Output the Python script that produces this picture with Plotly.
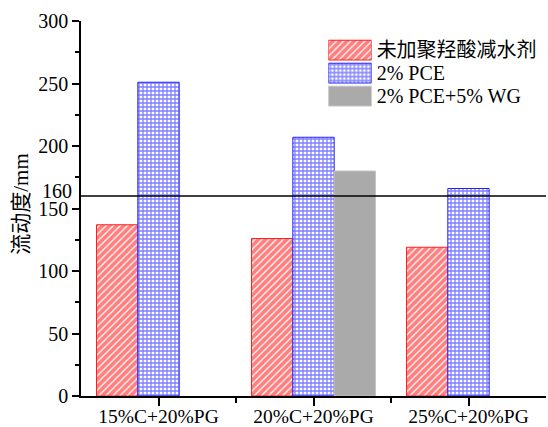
import plotly.graph_objects as go

# Mix designs (x categories) and flowability values in mm
categories = ["15%C+20%PG", "20%C+20%PG", "25%C+20%PG"]
series_names = ["未加聚羟酸减水剂", "2% PCE", "2% PCE+5% WG"]
no_admixture = [137, 126, 119]
pce_2 = [251, 207, 166]
pce_wg = [None, 180, None]
target_flow = 160
y_ticks = [0, 50, 100, 150, 200, 250, 300]

SERIF = "Liberation Serif, Times New Roman, serif"
CJK = "Liberation Serif, Noto Sans CJK SC, serif"

styles = [
    dict(color="white", line=dict(color="#ff2020", width=1),
         pattern=dict(shape="/", fgcolor="#ff0000", bgcolor="white", size=5, solidity=0.75)),
    dict(color="white", line=dict(color="#2020ff", width=1),
         pattern=dict(shape="+", fgcolor="#0000ff", bgcolor="white", size=4, solidity=0.55)),
    dict(color="#aaaaaa", line=dict(color="#c4c4c4", width=1)),
]

x_pos = list(range(len(categories)))
fig = go.Figure()
for name, vals, st in zip(series_names, [no_admixture, pce_2, pce_wg], styles):
    fig.add_trace(go.Bar(x=x_pos, y=vals, name=name, marker=st, showlegend=False))

# Legend drawn as a small inset bar chart: patterned swatches with names as labels
for name, st in zip(series_names, styles):
    fig.add_trace(go.Bar(
        y=[name], x=[1], orientation="h", xaxis="x2", yaxis="y2",
        showlegend=False, width=0.86, offset=-0.43, marker=st,
    ))

fig.add_shape(type="line", xref="paper", yref="y", x0=0, x1=1,
              y0=target_flow, y1=target_flow, line=dict(color="black", width=1.6))

fig.add_annotation(xref="paper", yref="y", x=0, y=target_flow, xanchor="right",
                   yanchor="middle", xshift=-7, yshift=5, text=str(target_flow),
                   showarrow=False, font=dict(family=SERIF, size=20, color="black"))

fig.add_annotation(xref="paper", yref="paper", x=-0.128, y=0.514, textangle=-90,
                   xanchor="center", yanchor="middle",
                   text="流动度/mm", showarrow=False,
                   font=dict(family=CJK, size=21, color="black"))

fig.update_layout(
    width=548, height=427,
    margin=dict(l=81, r=2, t=21, b=31),
    paper_bgcolor="white", plot_bgcolor="white",
    barmode="group", bargap=0.2, bargroupgap=0,
    xaxis=dict(
        range=[-0.5, 2.5], tickvals=x_pos, ticktext=categories,
        showline=True, linecolor="black", linewidth=1.5,
        ticks="outside", ticklen=8, tickwidth=1.5, tickcolor="black",
        minor=dict(tickvals=[0.5, 1.5], ticks="outside", ticklen=5,
                   tickwidth=1.5, tickcolor="black"),
        showgrid=False, zeroline=False, automargin=False, ticklabelstandoff=-6,
        tickfont=dict(family=SERIF, size=19.5, color="black"),
    ),
    yaxis=dict(
        range=[0, 300], tickvals=y_ticks,
        showline=True, linecolor="black", linewidth=1.5,
        ticks="outside", ticklen=7, tickwidth=1.5, tickcolor="black",
        minor=dict(dtick=25, ticks="outside", ticklen=4, tickwidth=1.5, tickcolor="black"),
        showgrid=False, zeroline=False, automargin=False,
        tickfont=dict(family=SERIF, size=20, color="black"),
    ),
    xaxis2=dict(domain=[0.532, 0.625], anchor="y2", range=[0, 1],
                visible=False, fixedrange=True),
    yaxis2=dict(domain=[0.769, 0.953], anchor="x2", side="right",
                tickmode="array", tickvals=series_names,
                autorange="reversed", showline=False, showgrid=False,
                zeroline=False, ticks="", ticklabelstandoff=4,
                tickfont=dict(family=CJK, size=20, color="black")),
)

fig.write_html("out.html")
